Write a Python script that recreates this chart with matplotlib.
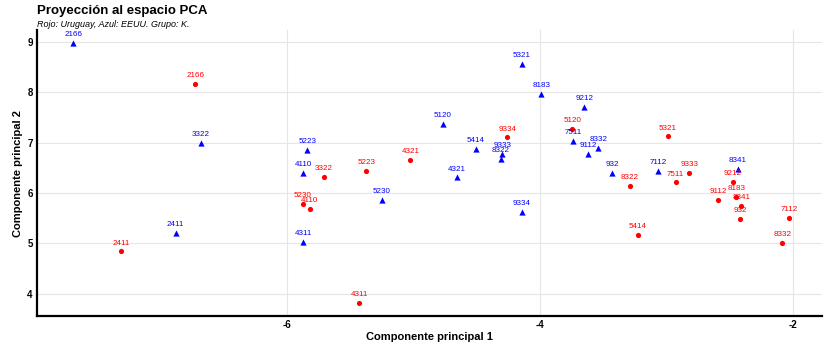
import matplotlib
matplotlib.use("Agg")
import matplotlib.pyplot as plt

plt.rcParams['font.family'] = ['Liberation Sans', 'DejaVu Sans']
plt.rcParams['axes.unicode_minus'] = False

# codes (same for both groups)
codigos = ["2166", "3322", "2411", "5223", "4110", "4311", "5230", "5120",
           "4321", "5414", "9333", "8322", "5321", "8183", "9334", "9212",
           "7511", "9112", "8332", "932", "7112", "8341"]

# EEUU (blue)
eeuu_x = [-7.69, -6.68, -6.88, -5.84, -5.87, -5.87, -5.25, -4.77,
          -4.66, -4.51, -4.30, -4.31, -4.145, -3.99, -4.145, -3.65,
          -3.74, -3.62, -3.54, -3.43, -3.07, -2.44]
eeuu_y = [8.98, 6.99, 5.20, 6.85, 6.39, 5.03, 5.87, 7.37,
          6.31, 6.87, 6.77, 6.67, 8.57, 7.97, 5.63, 7.71,
          7.03, 6.77, 6.89, 6.40, 6.44, 6.48]

# Uruguay (red)
uru_x = [-6.725, -5.71, -7.31, -5.375, -5.82, -5.43, -5.876, -3.747,
         -5.025, -3.23, -2.82, -3.29, -2.99, -2.45, -4.26, -2.48,
         -2.93, -2.595, -2.085, -2.42, -2.03, -2.41]
uru_y = [8.165, 6.32, 4.84, 6.44, 5.69, 3.81, 5.79, 7.27,
         6.65, 5.16, 6.39, 6.14, 7.125, 5.92, 7.105, 6.22,
         6.21, 5.86, 5.00, 5.48, 5.50, 5.75]

fig = plt.figure(figsize=(8.4, 3.44), dpi=100)
ax = fig.add_axes([0.044, 0.081, 0.935, 0.832])

ax.scatter(uru_x, uru_y, marker='o', s=14, color='red', zorder=3, linewidths=0)
ax.scatter(eeuu_x, eeuu_y, marker='^', s=20, color='blue', zorder=3, linewidths=0)

for c, x, y in zip(codigos, uru_x, uru_y):
    ax.annotate(c, (x, y), xytext=(0, 3.5), textcoords='offset points',
                ha='center', va='bottom', fontsize=5.8, color='red')
for c, x, y in zip(codigos, eeuu_x, eeuu_y):
    ax.annotate(c, (x, y), xytext=(0, 3.5), textcoords='offset points',
                ha='center', va='bottom', fontsize=5.8, color='blue')

ax.set_xlim(-7.976, -1.77)
ax.set_ylim(3.553, 9.24)
ax.set_xticks([-6, -4, -2])
ax.set_yticks([4, 5, 6, 7, 8, 9])
ax.grid(True, color='#e6e6e6', linewidth=0.8)
ax.set_axisbelow(True)

for s in ['top', 'right']:
    ax.spines[s].set_visible(False)
for s in ['left', 'bottom']:
    ax.spines[s].set_linewidth(1.6)
    ax.spines[s].set_color('black')

ax.tick_params(axis='both', labelsize=7, length=0, pad=3)
for lab in ax.get_xticklabels() + ax.get_yticklabels():
    lab.set_fontweight('bold')

ax.set_xlabel("Componente principal 1", fontsize=8, fontweight='bold', labelpad=1)
ax.set_ylabel("Componente principal 2", fontsize=8, fontweight='bold', labelpad=3)

fig.text(0.044, 0.968, "Proyección al espacio PCA", fontsize=9.5,
         fontweight='bold', ha='left', va='center')
fig.text(0.044, 0.93, "Rojo: Uruguay, Azul: EEUU. Grupo: K.", fontsize=6.5,
         style='italic', ha='left', va='center')

fig.savefig("out.png", dpi=100)
